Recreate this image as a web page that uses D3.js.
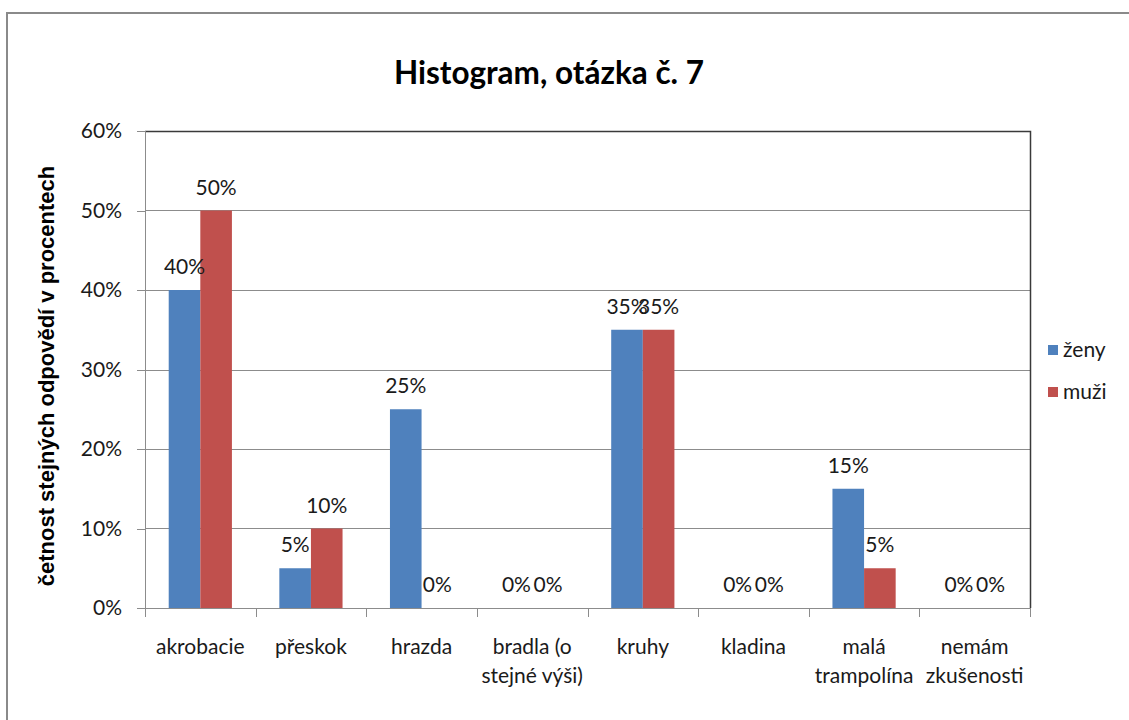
<!doctype html>
<html lang="cs">
<head>
<meta charset="utf-8">
<script src="https://d3js.org/d3.v7.min.js"></script>
<style>
body { margin: 0; background: #fff; font-family: Lato, "Open Sans", sans-serif; }
.grid line { stroke: #8c8c8c; stroke-width: 1; shape-rendering: crispEdges; }
.axis path, .axis line { stroke: #8c8c8c; shape-rendering: crispEdges; }
.axis text { fill: #1a1a1a; font-size: 21px; font-family: Lato, sans-serif; }
</style>
</head>
<body>
<script>
// data
var categories = ["akrobacie", "přeskok", "hrazda", "bradla (o stejné výši)", "kruhy", "kladina", "malá trampolína", "nemám zkušenosti"];
var catLines = [["akrobacie"], ["přeskok"], ["hrazda"], ["bradla (o", "stejné výši)"], ["kruhy"], ["kladina"], ["malá", "trampolína"], ["nemám", "zkušenosti"]];
var seriesNames = ["ženy", "muži"];
var zeny = [0.40, 0.05, 0.25, 0, 0.35, 0, 0.15, 0];
var muzi = [0.50, 0.10, 0, 0, 0.35, 0, 0.05, 0];
var yTicks = [0, 0.1, 0.2, 0.3, 0.4, 0.5, 0.6];
var colors = ["#4f81bd", "#c0504d"];

var W = 1129, H = 720;
var margin = {top: 131, left: 145, right: 1129 - 1030, bottom: 720 - 608};
var width = W - margin.left - margin.right,
    height = H - margin.top - margin.bottom;

var svg = d3.select("body").append("svg")
  .attr("width", W).attr("height", H);

// outer chart border
svg.append("rect")
  .attr("x", 7).attr("y", 13).attr("width", 1140).attr("height", 740)
  .attr("fill", "#fff").attr("stroke", "#8a8a8a").attr("stroke-width", 2);

svg.append("text")
  .attr("x", 549).attr("y", 84)
  .attr("text-anchor", "middle")
  .style("font-size", "31.5px").style("font-weight", "bold")
  .style("font-family", "Lato, sans-serif")
  .text("Histogram, otázka č. 7");

var g = svg.append("g").attr("transform", "translate(" + margin.left + "," + margin.top + ")");

var x0 = d3.scaleBand().domain(categories).range([0, width]).padding(0);
var x1 = d3.scaleBand().domain(seriesNames).range([0, x0.bandwidth()]).paddingInner(0).paddingOuter(0.75);
var y = d3.scaleLinear().domain([0, 0.6]).range([height, 0]);

// gridlines
g.append("g").attr("class", "grid")
  .selectAll("line").data(yTicks.slice(1, -1)).join("line")
  .attr("x1", 0).attr("x2", width)
  .attr("y1", d => Math.round(y(d)) + 0.5).attr("y2", d => Math.round(y(d)) + 0.5);

// plot area border top/right
g.append("path")
  .attr("d", "M0,0.5H" + (width + 0.5) + "V" + height)
  .attr("fill", "none").attr("stroke", "#3a3a3a").attr("stroke-width", 1.5);

// y axis
var yAxis = g.append("g").attr("class", "axis")
  .call(d3.axisLeft(y).tickValues(yTicks).tickFormat(d3.format(".0%")).tickSize(8).tickPadding(15));
yAxis.select(".domain").attr("d", "M0.5,0V" + (height + 8));

// x axis
var xAxis = g.append("g").attr("class", "axis")
  .attr("transform", "translate(0," + height + ")")
  .call(d3.axisBottom(x0).tickSize(0).tickFormat(""));
xAxis.select(".domain").attr("d", "M0," + 0.5 + "H" + width);
xAxis.selectAll(".tick").remove();
var bounds = d3.range(categories.length + 1).map(i => i * x0.step());
xAxis.selectAll("line.tk").data(bounds).join("line").attr("class", "tk")
  .attr("x1", d => Math.round(d) + 0.5).attr("x2", d => Math.round(d) + 0.5)
  .attr("y1", 0).attr("y2", 9).attr("stroke", "#8c8c8c");
xAxis.selectAll("text.cl").data(categories).join("text").attr("class", "cl")
  .attr("x", d => x0(d) + x0.bandwidth() / 2)
  .attr("y", 46)
  .attr("text-anchor", "middle")
  .style("font-size", "21px").style("fill", "#1a1a1a")
  .each(function(d, i) {
    var t = d3.select(this);
    catLines[i].forEach(function(l, j) {
      t.append("tspan").attr("x", x0(d) + x0.bandwidth() / 2).attr("dy", j ? 29 : 0).text(l);
    });
  });

// bars
var rows = categories.map((c, i) => ({cat: c, vals: [{s: seriesNames[0], v: zeny[i]}, {s: seriesNames[1], v: muzi[i]}]}));
var grp = g.selectAll("g.cat").data(rows).join("g").attr("class", "cat")
  .attr("transform", d => "translate(" + x0(d.cat) + ",0)");
grp.selectAll("rect").data(d => d.vals).join("rect")
  .attr("x", d => x1(d.s)).attr("width", x1.bandwidth())
  .attr("y", d => y(d.v)).attr("height", d => height - y(d.v))
  .attr("fill", (d, i) => colors[i]);
grp.selectAll("text").data(d => d.vals).join("text")
  .attr("x", d => x1(d.s) + x1.bandwidth() / 2)
  .attr("y", d => y(d.v) - 16)
  .attr("text-anchor", "middle")
  .style("font-size", "21px").style("fill", "#1a1a1a")
  .text(d => d3.format(".0%")(d.v));

// y title
svg.append("text")
  .attr("transform", "translate(54,376) rotate(-90)")
  .attr("text-anchor", "middle")
  .style("font-size", "22px").style("font-weight", "bold")
  .style("font-family", "'Liberation Sans Narrow', 'Liberation Sans', sans-serif")
  .text("četnost stejných odpovědí v procentech");

// legend
var leg = svg.selectAll("g.leg").data(seriesNames).join("g").attr("class", "leg")
  .attr("transform", (d, i) => "translate(1048," + (345 + i * 42) + ")");
leg.append("rect").attr("width", 10).attr("height", 10).attr("fill", (d, i) => colors[i]);
leg.append("text").attr("x", 15).attr("y", 5).attr("dy", "0.35em")
  .style("font-size", "21px").style("fill", "#1a1a1a").text(d => d);
</script>
</body>
</html>
